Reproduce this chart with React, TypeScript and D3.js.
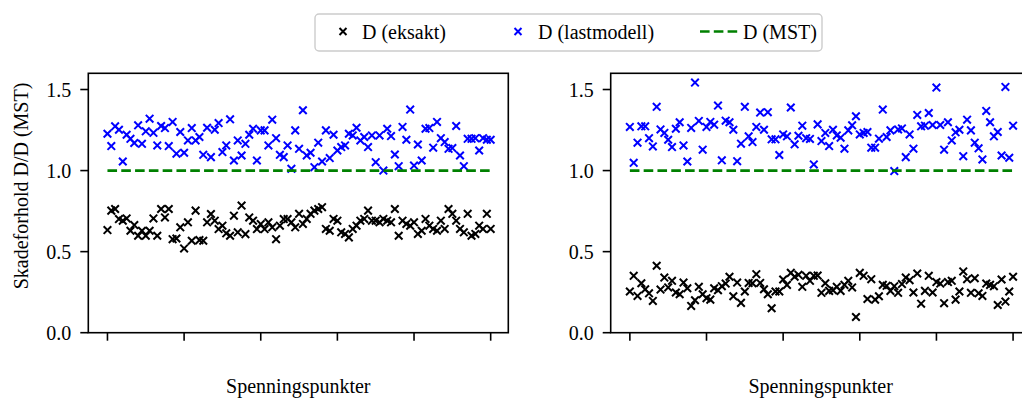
import React from "react";
import * as d3 from "d3";

// Damage ratio per stress point, two load cases (left / right panel)
const leftExact = [
  0.633, 0.753, 0.763, 0.701, 0.691, 0.705, 0.629, 0.664, 0.598, 0.629,
  0.598, 0.629, 0.705, 0.598, 0.763, 0.711, 0.763, 0.577, 0.581, 0.650,
  0.520, 0.681, 0.567, 0.753, 0.571, 0.567, 0.681, 0.732, 0.691, 0.639,
  0.660, 0.613, 0.598, 0.722, 0.619, 0.784, 0.608, 0.711, 0.691, 0.639,
  0.670, 0.639, 0.681, 0.650, 0.577, 0.660, 0.701, 0.701, 0.681,
  0.650, 0.733, 0.671, 0.702, 0.733, 0.753, 0.763, 0.774, 0.640, 0.629,
  0.702, 0.691, 0.619, 0.609, 0.588, 0.640, 0.660, 0.691, 0.702, 0.753,
  0.691, 0.691, 0.681, 0.702, 0.691, 0.681, 0.763, 0.598, 0.691, 0.671,
  0.660, 0.681, 0.609, 0.629, 0.702, 0.660, 0.640, 0.629, 0.691, 0.640,
  0.763, 0.733, 0.691, 0.640, 0.619, 0.733, 0.598, 0.609, 0.660, 0.640,
  0.733, 0.640,
];

const leftModel = [
  1.227, 1.151, 1.273, 1.252, 1.056, 1.221, 1.196, 1.170, 1.279, 1.165,
  1.242, 1.320, 1.233, 1.155, 1.275, 1.262, 1.151, 1.300, 1.104, 1.238,
  1.110, 1.186, 1.262, 1.186, 1.207, 1.097, 1.264, 1.083, 1.252, 1.293,
  1.114, 1.155, 1.316, 1.062, 1.186, 1.093, 1.165, 1.221, 1.258, 1.062,
  1.248, 1.248, 1.155, 1.314, 1.200, 1.097, 1.083, 1.155, 1.011, 1.248,
  1.134, 1.372, 1.093, 1.110, 1.021, 1.172, 1.056, 1.248, 1.077, 1.221,
  1.124, 1.145, 1.155, 1.227, 1.217, 1.264, 1.186, 1.207, 1.145, 1.217,
  1.052, 1.217, 1.000, 1.258, 1.213, 1.099, 1.027, 1.269, 1.190, 1.376,
  1.031, 1.161, 1.062, 1.258, 1.262, 1.141, 1.300, 1.200, 1.176, 1.134,
  1.139, 1.275, 1.093, 1.027, 1.196, 1.196, 1.200, 1.124, 1.200, 1.190,
  1.190,
];

const rightExact = [
  0.254, 0.351, 0.227, 0.305, 0.268, 0.243, 0.196, 0.413, 0.266, 0.340,
  0.279, 0.320, 0.248, 0.237, 0.309, 0.274, 0.165, 0.200, 0.283, 0.237,
  0.213, 0.204, 0.274, 0.262, 0.287, 0.303, 0.345, 0.225, 0.309, 0.184,
  0.254, 0.307, 0.305, 0.361, 0.307, 0.268, 0.237, 0.151, 0.254, 0.254,
  0.328, 0.295, 0.369, 0.345, 0.357, 0.283, 0.351, 0.320, 0.351, 0.353,
  0.246, 0.305, 0.258, 0.262, 0.283, 0.258, 0.295, 0.320, 0.279, 0.097,
  0.369, 0.351, 0.208, 0.330, 0.204, 0.225, 0.295, 0.289, 0.258, 0.287,
  0.246, 0.300, 0.340, 0.324, 0.248, 0.365, 0.179, 0.258, 0.351, 0.248,
  0.312, 0.303, 0.182, 0.312, 0.320, 0.204, 0.254, 0.378, 0.330, 0.246,
  0.336, 0.243, 0.227, 0.303, 0.295, 0.287, 0.171, 0.328, 0.192, 0.254,
  0.345,
];

const rightModel = [
  1.269, 1.048, 1.172, 1.273, 1.273, 1.200, 1.149, 1.393, 1.254, 1.232,
  1.190, 1.145, 1.258, 1.298, 1.155, 1.056, 1.263, 1.543, 1.306, 1.129,
  1.269, 1.300, 1.283, 1.401, 1.063, 1.308, 1.298, 1.252, 1.058, 1.166,
  1.393, 1.211, 1.176, 1.269, 1.358, 1.252, 1.360, 1.193, 1.193, 1.096,
  1.223, 1.211, 1.389, 1.162, 1.215, 1.277, 1.200, 1.195, 1.038, 1.285,
  1.182, 1.232, 1.151, 1.252, 1.217, 1.203, 1.135, 1.248, 1.279, 1.335,
  1.223, 1.232, 1.238, 1.141, 1.141, 1.197, 1.376, 1.207, 1.248, 0.997,
  1.254, 1.260, 1.083, 1.223, 1.135, 1.343, 1.273, 1.277, 1.355, 1.281,
  1.512, 1.281, 1.129, 1.298, 1.186, 1.236, 1.252, 1.089, 1.314, 1.248,
  1.172, 1.137, 1.069, 1.368, 1.298, 1.211, 1.238, 1.093, 1.516, 1.079,
  1.277,
];

const mstLevel = 1.0;
const xTicks = [0, 20, 40, 60, 80, 100];
const yTicks = [0, 0.5, 1.0, 1.5];
const yTickLabels = ["0.0", "0.5", "1.0", "1.5"];
const legendLabels = ["D (eksakt)", "D (lastmodell)", "D (MST)"];
const xLabel = "Spenningspunkter";
const yLabel = "Skadeforhold D/D (MST)";

const FONT = "Liberation Serif";
const FS = 20;
const TOP = 73.3;
const BOTTOM = 332.7;
const AX_W = 420;

const textStyle: React.CSSProperties = { fontFamily: FONT, fontSize: FS };

const panels = [
  { left: 88.3, exact: leftExact, model: leftModel, showYLabel: true },
  { left: 610.7, exact: rightExact, model: rightModel, showYLabel: false },
];

function XMark({ x, y, r, color, sw }: { x: number; y: number; r: number; color: string; sw: number }) {
  return (
    <path
      d={`M${x - r},${y - r}L${x + r},${y + r}M${x - r},${y + r}L${x + r},${y - r}`}
      stroke={color}
      strokeWidth={sw}
      fill="none"
    />
  );
}

function Panel({ left, exact, model, showYLabel }: any) {
  const x = d3.scaleLinear().domain([-5, 104.6]).range([left, left + AX_W]);
  const y = d3.scaleLinear().domain([0, 1.6]).range([BOTTOM, TOP]);
  const n = exact.length;
  const idx = d3.range(n);
  const line = d3
    .line<number>()
    .x((d) => x(d))
    .y(() => y(mstLevel));
  return (
    <g>
      {idx.map((i) => (
        <XMark key={`e${i}`} x={x(i)} y={y(exact[i])} r={3.8} color="#000000" sw={2} />
      ))}
      {idx.map((i) => (
        <XMark key={`m${i}`} x={x(i)} y={y(model[i])} r={3.8} color="#0000ff" sw={2} />
      ))}
      <path
        d={line([0, n - 1]) || ""}
        stroke="#008000"
        strokeWidth={2.6}
        strokeDasharray="9.6 4.2"
        fill="none"
      />
      <rect x={left} y={TOP} width={AX_W} height={BOTTOM - TOP} fill="none" stroke="#000" strokeWidth={1.6} />
      {yTicks.map((t, k) => (
        <g key={`yt${k}`}>
          <line x1={left - 8} x2={left} y1={y(t)} y2={y(t)} stroke="#000" strokeWidth={1.6} />
          <text x={left - 17} y={y(t) + 7} textAnchor="end" style={textStyle} fill="#000">
            {yTickLabels[k]}
          </text>
        </g>
      ))}
      {xTicks.map((t) => (
        <line key={`xt${t}`} x1={x(t)} x2={x(t)} y1={BOTTOM} y2={BOTTOM + 8} stroke="#000" strokeWidth={1.6} />
      ))}
      <text x={left + AX_W / 2} y={393} textAnchor="middle" style={textStyle} fill="#000">
        {xLabel}
      </text>
      {showYLabel && (
        <text transform={`translate(28,186) rotate(-90)`} textAnchor="middle" style={textStyle} fill="#000">
          {yLabel}
        </text>
      )}
    </g>
  );
}

function Legend() {
  const cy = 31.5;
  const ty = cy + 7;
  return (
    <g>
      <rect x={315} y={14} width={507} height={37} rx={4} fill="#ffffff" stroke="#cccccc" strokeWidth={1.4} />
      <XMark x={343} y={cy} r={3.5} color="#000000" sw={2} />
      <text x={362} y={ty} style={textStyle} fill="#000">
        {legendLabels[0]}
      </text>
      <XMark x={518} y={cy} r={3.5} color="#0000ff" sw={2} />
      <text x={538} y={ty} style={textStyle} fill="#000">
        {legendLabels[1]}
      </text>
      <line x1={700} x2={738} y1={cy} y2={cy} stroke="#008000" strokeWidth={2.6} strokeDasharray="9.6 4.2" />
      <text x={743} y={ty} style={textStyle} fill="#000">
        {legendLabels[2]}
      </text>
    </g>
  );
}

export default function App() {
  return (
    <svg width={1022} height={402} style={{ position: "absolute", left: 0, top: 0, background: "#ffffff" }}>
      <rect x={0} y={0} width={1022} height={402} fill="#ffffff" />
      {panels.map((p, i) => (
        <Panel key={i} {...p} />
      ))}
      <Legend />
    </svg>
  );
}
